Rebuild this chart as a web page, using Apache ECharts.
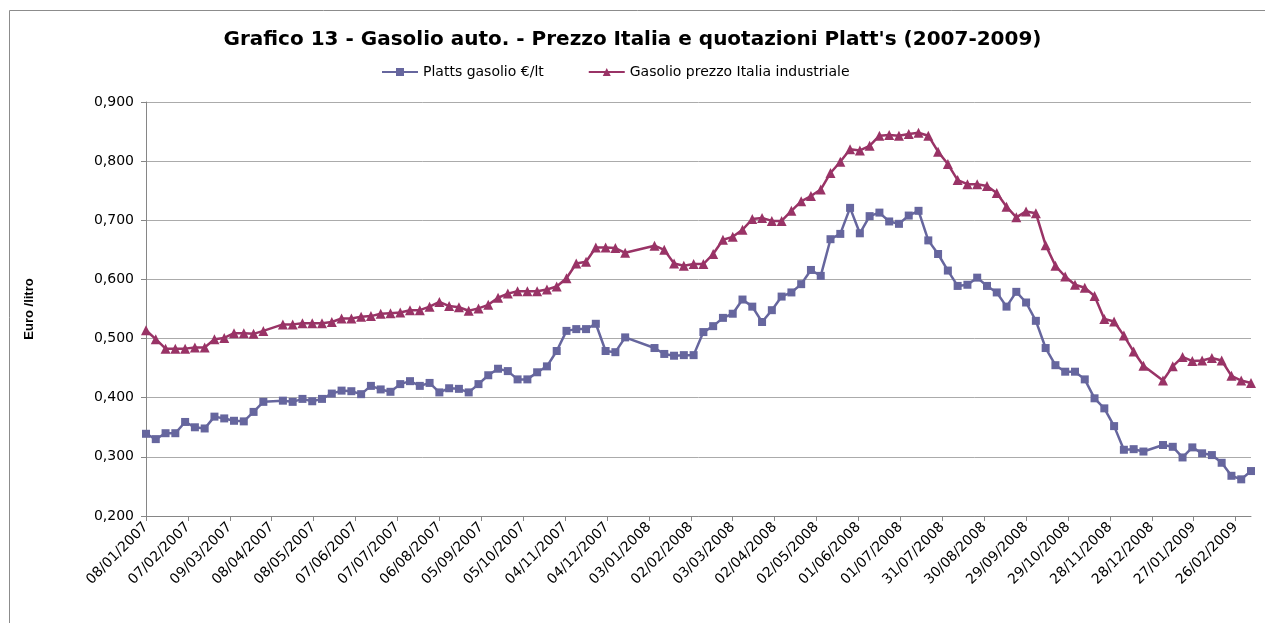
<!DOCTYPE html>
<html>
<head>
<meta charset="utf-8">
<script src="https://cdn.jsdelivr.net/npm/echarts@6/dist/echarts.min.js"></script>
<style>
html,body{margin:0;padding:0;background:#fff;}
#main{width:1265px;height:623px;}
</style>
</head>
<body>
<div id="main"></div>
<script>
// weekly quotation dates (holiday weeks missing)
var dates = [
	'2007-01-08','2007-01-15','2007-01-22','2007-01-29','2007-02-05','2007-02-12','2007-02-19','2007-02-26',
	'2007-03-05','2007-03-12','2007-03-19','2007-03-26','2007-04-02','2007-04-16','2007-04-23','2007-04-30',
	'2007-05-07','2007-05-14','2007-05-21','2007-05-28','2007-06-04','2007-06-11','2007-06-18','2007-06-25',
	'2007-07-02','2007-07-09','2007-07-16','2007-07-23','2007-07-30','2007-08-06','2007-08-13','2007-08-20',
	'2007-08-27','2007-09-03','2007-09-10','2007-09-17','2007-09-24','2007-10-01','2007-10-08','2007-10-15',
	'2007-10-22','2007-10-29','2007-11-05','2007-11-12','2007-11-19','2007-11-26','2007-12-03','2007-12-10',
	'2007-12-17','2008-01-07','2008-01-14','2008-01-21','2008-01-28','2008-02-04','2008-02-11','2008-02-18',
	'2008-02-25','2008-03-03','2008-03-10','2008-03-17','2008-03-24','2008-03-31','2008-04-07','2008-04-14',
	'2008-04-21','2008-04-28','2008-05-05','2008-05-12','2008-05-19','2008-05-26','2008-06-02','2008-06-09',
	'2008-06-16','2008-06-23','2008-06-30','2008-07-07','2008-07-14','2008-07-21','2008-07-28','2008-08-04',
	'2008-08-11','2008-08-18','2008-08-25','2008-09-01','2008-09-08','2008-09-15','2008-09-22','2008-09-29',
	'2008-10-06','2008-10-13','2008-10-20','2008-10-27','2008-11-03','2008-11-10','2008-11-17','2008-11-24',
	'2008-12-01','2008-12-08','2008-12-15','2008-12-22','2009-01-05','2009-01-12','2009-01-19','2009-01-26',
	'2009-02-02','2009-02-09','2009-02-16','2009-02-23','2009-03-02','2009-03-09'
];

var platts = [
	0.339,0.330,0.340,0.340,0.359,0.350,0.348,0.368,
	0.365,0.361,0.360,0.376,0.393,0.395,0.393,0.398,
	0.394,0.398,0.407,0.412,0.411,0.406,0.420,0.414,
	0.410,0.423,0.428,0.420,0.425,0.409,0.416,0.415,
	0.409,0.423,0.438,0.449,0.445,0.431,0.431,0.443,
	0.453,0.479,0.513,0.516,0.516,0.525,0.479,0.477,
	0.502,0.484,0.474,0.471,0.472,0.472,0.511,0.521,
	0.535,0.542,0.566,0.554,0.528,0.548,0.571,0.578,
	0.592,0.616,0.606,0.668,0.677,0.721,0.678,0.707,
	0.713,0.698,0.694,0.708,0.716,0.666,0.643,0.615,
	0.589,0.591,0.603,0.589,0.578,0.554,0.579,0.561,
	0.530,0.484,0.455,0.444,0.444,0.431,0.399,0.382,
	0.352,0.312,0.313,0.309,0.320,0.317,0.299,0.316,
	0.306,0.303,0.290,0.268,0.262,0.276
];

var italia = [
	0.514,0.499,0.483,0.483,0.483,0.485,0.485,0.499,
	0.501,0.509,0.509,0.508,0.513,0.524,0.524,0.526,
	0.526,0.526,0.528,0.534,0.534,0.537,0.538,0.542,
	0.543,0.544,0.548,0.548,0.554,0.562,0.555,0.553,
	0.547,0.551,0.557,0.569,0.576,0.580,0.580,0.580,
	0.583,0.588,0.602,0.627,0.630,0.654,0.654,0.653,
	0.645,0.657,0.650,0.627,0.623,0.626,0.626,0.643,
	0.667,0.672,0.684,0.702,0.704,0.699,0.699,0.716,
	0.732,0.741,0.752,0.780,0.799,0.820,0.818,0.826,
	0.843,0.844,0.843,0.846,0.848,0.843,0.816,0.795,
	0.768,0.761,0.761,0.758,0.746,0.723,0.705,0.715,
	0.712,0.658,0.623,0.605,0.591,0.586,0.572,0.533,
	0.529,0.505,0.478,0.454,0.429,0.453,0.469,0.462,
	0.463,0.467,0.463,0.437,0.429,0.425
];

var tickLabels = [
	'08/01/2007','07/02/2007','09/03/2007','08/04/2007','08/05/2007','07/06/2007','07/07/2007',
	'06/08/2007','05/09/2007','05/10/2007','04/11/2007','04/12/2007','03/01/2008','02/02/2008',
	'03/03/2008','02/04/2008','02/05/2008','01/06/2008','01/07/2008','31/07/2008','30/08/2008',
	'29/09/2008','29/10/2008','28/11/2008','28/12/2008','27/01/2009','26/02/2009'
];

var DAY = 86400000;
var start = Date.parse(dates[0]);
function dayOf(iso){ return Math.round((Date.parse(iso) - start) / DAY); }
function dayOfLabel(s){ var p = s.split('/'); return dayOf(p[2] + '-' + p[1] + '-' + p[0]); }

var tickDays = tickLabels.map(dayOfLabel);
var labelByDay = {};
tickLabels.forEach(function(s, i){ labelByDay[tickDays[i]] = s; });

var plattsData = dates.map(function(d, i){ return [dayOf(d), platts[i]]; });
var italiaData = dates.map(function(d, i){ return [dayOf(d), italia[i]]; });

var myChart = echarts.init(document.getElementById('main'));
myChart.setOption({
	animation: false,
	backgroundColor: '#fff',
	title: {
		text: "Grafico 13 - Gasolio auto. - Prezzo Italia e quotazioni Platt's (2007-2009)",
		left: 'center',
		top: 25,
		padding: [5, 0, 5, 18],
		textStyle: {
			fontFamily: 'DejaVu Sans',
			fontWeight: 'bold',
			fontSize: 20,
			color: '#000'
		}
	},
	legend: {
		left: 376,
		top: 60,
		itemWidth: 36,
		itemHeight: 10,
		itemGap: 44,
		textStyle: {
			fontFamily: 'DejaVu Sans',
			fontSize: 14,
			color: '#000'
		},
		data: ['Platts gasolio €/lt', 'Gasolio prezzo Italia industriale']
	},
	grid: {
		left: 146,
		right: 14,
		top: 102,
		bottom: 107
	},
	xAxis: {
		type: 'value',
		min: 0,
		max: dayOf(dates[dates.length - 1]),
		interval: 30,
		splitLine: { show: false },
		axisLine: { lineStyle: { color: '#868686', width: 1 } },
		axisTick: {
			show: true,
			length: 5,
			customValues: tickDays,
			lineStyle: { color: '#868686' }
		},
		axisLabel: {
			rotate: 45,
			margin: 9,
			customValues: tickDays,
			fontFamily: 'DejaVu Sans',
			fontSize: 14,
			color: '#000',
			formatter: function(v){ return labelByDay[v] || ''; }
		}
	},
	yAxis: {
		type: 'value',
		min: 0.2,
		max: 0.9,
		interval: 0.1,
		name: 'Euro /litro',
		nameLocation: 'middle',
		nameRotate: 90,
		nameGap: 110,
		nameTextStyle: {
			fontFamily: 'Liberation Sans Narrow, Liberation Sans',
			fontWeight: 'bold',
			fontSize: 13,
			color: '#000'
		},
		axisLine: { show: true, lineStyle: { color: '#868686', width: 1 } },
		axisTick: { show: true, length: 5, lineStyle: { color: '#868686' } },
		splitLine: { lineStyle: { color: '#ababab', width: 1 } },
		axisLabel: {
			margin: 12,
			fontFamily: 'DejaVu Sans',
			fontSize: 14,
			color: '#000',
			formatter: function(v){ return v.toFixed(3).replace('.', ','); }
		}
	},
	graphic: [{
		type: 'rect',
		shape: { x: 9.5, y: 10.5, width: 1400, height: 800 },
		style: { fill: 'none', stroke: '#8c8c8c', lineWidth: 1 },
		silent: true,
		z: -1
	}],
	series: [{
		name: 'Platts gasolio €/lt',
		type: 'line',
		data: plattsData,
		symbol: 'rect',
		symbolSize: 8,
		color: '#66669e',
		lineStyle: { width: 2.5, color: '#66669e' },
		itemStyle: { color: '#66669e' }
	}, {
		name: 'Gasolio prezzo Italia industriale',
		type: 'line',
		data: italiaData,
		symbol: 'triangle',
		symbolSize: 10,
		color: '#993366',
		lineStyle: { width: 2.5, color: '#993366' },
		itemStyle: { color: '#993366' }
	}]
});
</script>
</body>
</html>
